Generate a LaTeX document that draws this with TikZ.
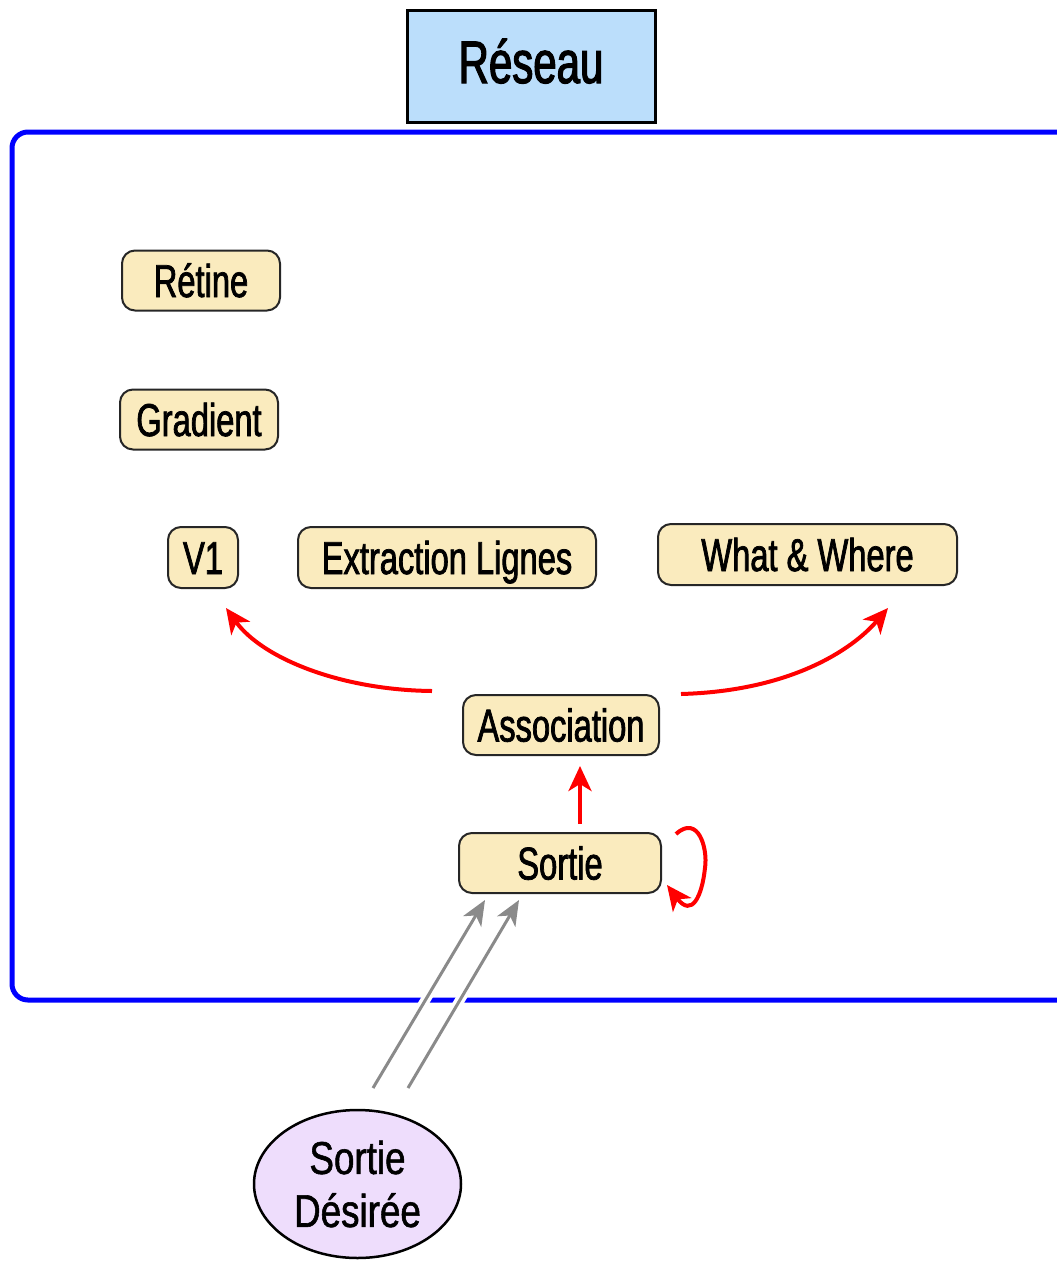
\documentclass[tikz,border=0pt]{standalone}
\usepackage{fontspec}
\setmainfont{Liberation Sans}
\newfontfamily\nodefont[FakeStretch=0.71,FakeBold=1.6]{Liberation Sans}
\newfontfamily\titlefont[FakeStretch=0.70,FakeBold=2.0]{Liberation Sans}
\newfontfamily\ellfont[FakeStretch=0.80,FakeBold=1.2]{Liberation Sans}
\usetikzlibrary{arrows.meta,shapes.geometric}
\definecolor{boxfill}{HTML}{FAEBBE}
\definecolor{titlefill}{HTML}{BBDEFB}
\definecolor{ellfill}{HTML}{EEDDFC}
\definecolor{framblue}{HTML}{0000FF}
\definecolor{arrgray}{HTML}{8A8A8A}
\begin{document}
\begin{tikzpicture}[x=1pt,y=-1pt,
  unit/.style={draw=black!85, line width=2pt, fill=boxfill, rounded corners=13pt,
    inner sep=0pt, font=\nodefont\fontsize{46}{53}\selectfont,
    text height=33pt, text depth=0pt, minimum height=60pt},
  redarrow/.style={draw=red, line width=4pt, -{Stealth[length=25pt,width=23pt,inset=7pt]}},
  grayarrow/.style={draw=arrgray, line width=3pt, -{Stealth[length=25pt,width=21pt,inset=7pt]}},
  halo/.style={draw=white, line width=10pt, shorten >=30pt, shorten <=2pt}]
\useasboundingbox (0,0) rectangle (1057,1261);
\clip (0,0) rectangle (1057,1261);
% frame
\draw[framblue, line width=5pt, rounded corners=16pt] (12,132) rectangle (1075,1000);
% title
\node[draw=black, line width=3pt, fill=titlefill, inner sep=0pt,
  minimum width=248pt, minimum height=112pt,
  font=\titlefont\fontsize{60}{70}\selectfont, text height=43pt, text depth=9pt]
  (title) at (531,66) {Réseau};
% units
\node[unit, minimum width=158pt] (retine) at (201,280.5) {Rétine};
\node[unit, minimum width=158pt] (gradient) at (199,419.5) {Gradient};
\node[unit, minimum width=70pt, minimum height=61pt] (v1) at (203,557.5) {V1};
\node[unit, minimum width=298pt, minimum height=61pt] (extr) at (447,557.5) {Extraction Lignes};
\node[unit, minimum width=299pt, minimum height=61pt] (ww) at (807.5,554.5) {What \& Where};
\node[unit, minimum width=196pt] (assoc) at (561,725) {Association};
\node[unit, minimum width=202pt] (sortie) at (560,863) {Sortie};
% ellipse
\node[ellipse, draw=black, line width=2.5pt, fill=ellfill, minimum width=207pt,
  minimum height=148pt, inner sep=0pt, align=center,
  font=\ellfont\fontsize{46}{53}\selectfont] (desiree) at (357.5,1184) {Sortie\\Désirée};
% red arrows
\coordinate (aL) at (432,691);
\coordinate (v1t) at (226,608);
\coordinate (aR) at (681,694);
\coordinate (wwt) at (888,608);
\draw[redarrow] (aL) .. controls (340,690) and (262,658) .. (v1t);
\draw[redarrow] (aR) .. controls (790,691) and (852,650) .. (wwt);
\coordinate (vx) at (580,0);
\draw[redarrow, shorten <=8pt, shorten >=10pt] (sortie.north -| vx) -- (assoc.south -| vx);
\coordinate (l1) at (676,834);
\coordinate (l2) at (667,885);
\draw[redarrow] (l1) .. controls (698,814) and (708,848) .. (705,868)
  .. controls (702,896) and (692,918) .. (l2);
% gray arrows
\coordinate (g1s) at (373,1088);
\coordinate (g1e) at (485,900);
\coordinate (g2s) at (408,1088);
\coordinate (g2e) at (519,900);
\draw[halo] (g1s) -- (g1e);
\draw[halo] (g2s) -- (g2e);
\draw[grayarrow] (g1s) -- (g1e);
\draw[grayarrow] (g2s) -- (g2e);
\end{tikzpicture}
\end{document}
